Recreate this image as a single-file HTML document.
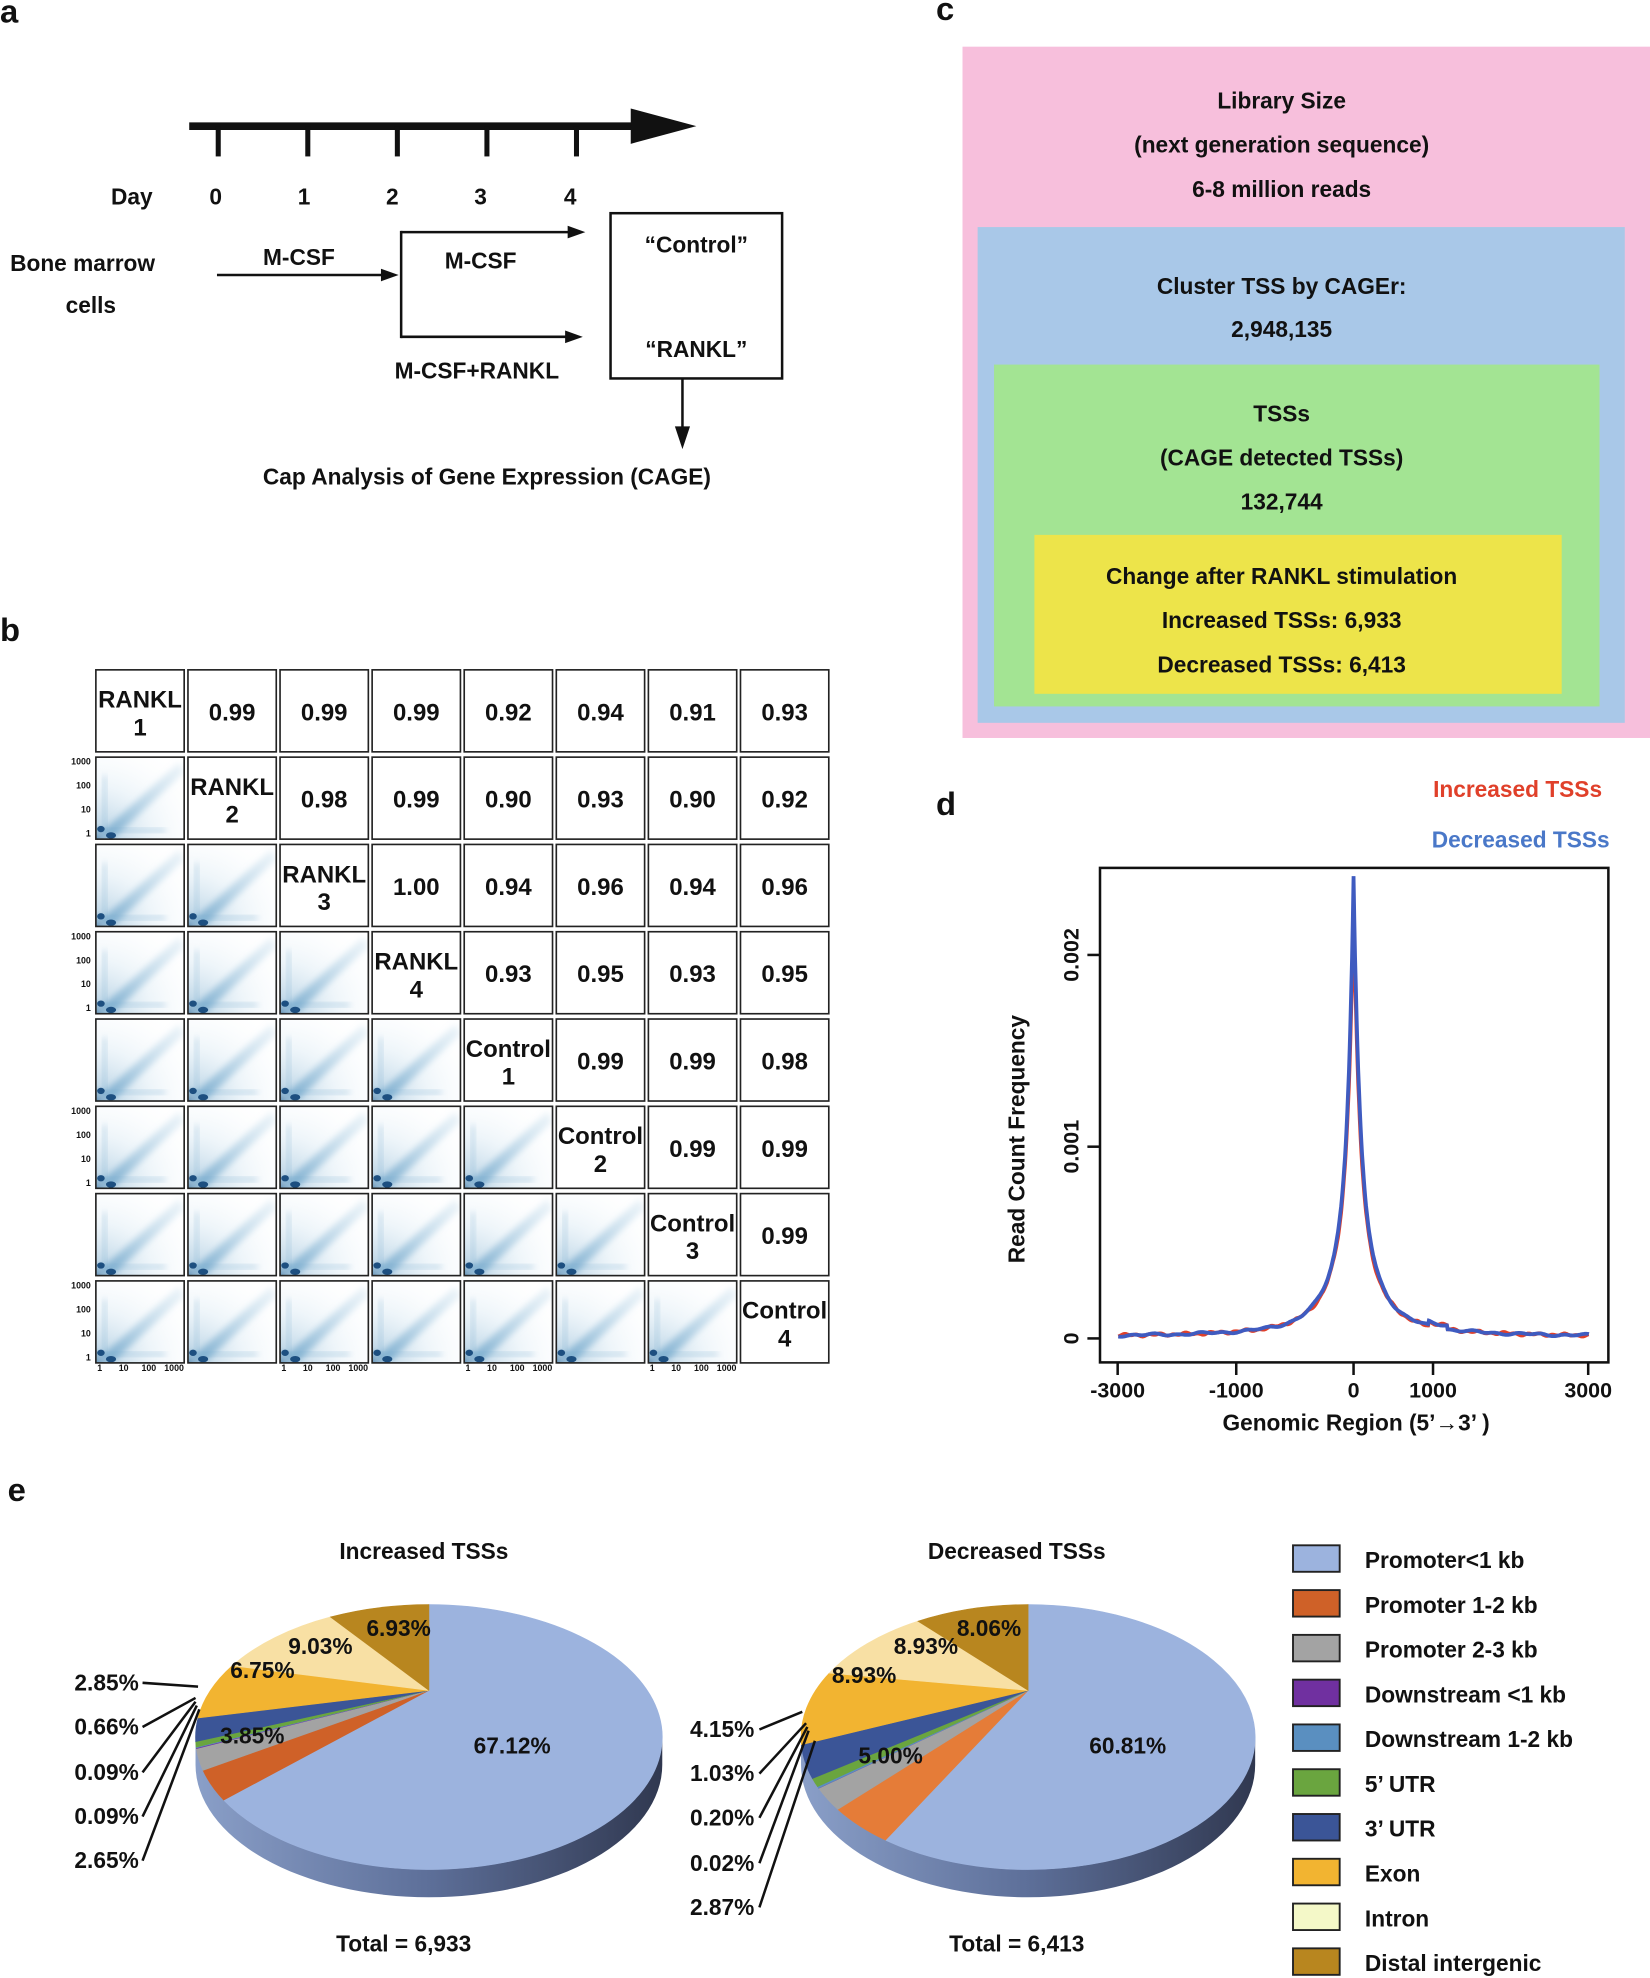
<!DOCTYPE html>
<html><head><meta charset="utf-8"><style>
html,body{margin:0;padding:0;background:#fff}
svg{display:block}
text{font-family:"Liberation Sans",Arial,sans-serif;font-weight:bold;fill:#111}
</style></head><body>
<svg id="s" width="1650" height="1978" viewBox="0 0 1308 1568" xmlns="http://www.w3.org/2000/svg">
<defs>
<radialGradient id="blob" cx="0" cy="1" r="1.3">
<stop offset="0" stop-color="#2a6a9c" stop-opacity="0.7"/>
<stop offset="0.15" stop-color="#6aa2c8" stop-opacity="0.4"/>
<stop offset="0.5" stop-color="#bcd8ea" stop-opacity="0.25"/>
<stop offset="1" stop-color="#fff" stop-opacity="0"/>
</radialGradient>
<linearGradient id="diag" x1="0" y1="1" x2="1" y2="0">
<stop offset="0" stop-color="#5a98c2" stop-opacity="0.7"/>
<stop offset="1" stop-color="#b4d4e8" stop-opacity="0.25"/>
</linearGradient>
<filter id="bl"><feGaussianBlur stdDeviation="2.5"/></filter>
<symbol id="th" viewBox="0 0 70 65">
<rect x="0" y="0" width="70" height="65" fill="#fff"/>
<rect x="0" y="0" width="70" height="65" fill="url(#blob)"/>
<path d="M4 60 L66 4 L70 12 L14 64 Z" fill="url(#diag)" filter="url(#bl)"/>
<rect x="0" y="56" width="55" height="4" fill="#7fb0d2" opacity="0.35" filter="url(#bl)"/>
<rect x="5" y="15" width="4" height="50" fill="#7fb0d2" opacity="0.3" filter="url(#bl)"/>
<ellipse cx="4" cy="57" rx="3" ry="2.5" fill="#1d4f80"/>
<ellipse cx="12" cy="62" rx="4" ry="2.5" fill="#1d4f80"/>
</symbol>
<linearGradient id="sideL" x1="0" y1="0" x2="1" y2="0">
<stop offset="0" stop-color="#8a9fc8"/><stop offset="0.5" stop-color="#5d6f99"/><stop offset="1" stop-color="#303850"/>
</linearGradient>
</defs>
<g id="g"></g>
</svg>
<script>
const S='http://www.w3.org/2000/svg',G=document.getElementById('g');
function el(t,a,txt){const e=document.createElementNS(S,t);for(const k in a)e.setAttribute(k,a[k]);if(txt!==undefined)e.textContent=txt;G.appendChild(e);return e;}
function T(x,y,s,fs,anc,extra){const a={x:x,y:y,'font-size':fs||18};if(anc)a['text-anchor']=anc;Object.assign(a,extra||{});return el('text',a,s);}
T(0,18,'a',26);T(742,16,'c',26);T(0,508,'b',26);T(742,646,'d',26);T(6,1190,'e',26);
el('line',{x1:150,y1:100,x2:510,y2:100,stroke:'#111','stroke-width':6});
el('polygon',{points:'500,86 552,100 500,114',fill:'#111'});
[173,244,315,386,457].forEach(x=>el('line',{x1:x,y1:100,x2:x,y2:124,stroke:'#111','stroke-width':4}));
T(88,162,'Day',18);[['0',171],['1',241],['2',311],['3',381],['4',452]].forEach(d=>T(d[1],162,d[0],18,'middle'));
T(8,215,'Bone marrow',18);T(72,248,'cells',18,'middle');
function arr(x1,y1,x2,y2){el('line',{x1:x1,y1:y1,x2:x2-12,y2:y2,stroke:'#111','stroke-width':2});el('polygon',{points:`${x2-14},${y2-5} ${x2},${y2} ${x2-14},${y2+5}`,fill:'#111'});}
arr(172,218,316,218);T(237,210,'M-CSF',18,'middle');
el('line',{x1:318,y1:183,x2:318,y2:268,stroke:'#111','stroke-width':2});
arr(318,184,464,184);arr(318,267,462,267);
T(381,213,'M-CSF',18,'middle');T(378,300,'M-CSF+RANKL',18,'middle');
el('rect',{x:484,y:169,width:136,height:131,fill:'none',stroke:'#111','stroke-width':2});
T(552,200,'“Control”',18,'middle');T(552,283,'“RANKL”',18,'middle');
el('line',{x1:541,y1:300,x2:541,y2:342,stroke:'#111','stroke-width':2});el('polygon',{points:'535,338 541,356 547,338',fill:'#111'});
T(386,384,'Cap Analysis of Gene Expression (CAGE)',18,'middle');
el('rect',{x:763,y:37,width:545,height:548,fill:'#f7bfdc'});
el('rect',{x:775,y:180,width:513,height:393,fill:'#a9c8e8'});
el('rect',{x:788,y:289,width:480,height:271,fill:'#a3e493'});
el('rect',{x:820,y:424,width:418,height:126,fill:'#ede44a'});
[['Library Size',86],['(next generation sequence)',121],['6-8 million reads',156],['Cluster TSS by CAGEr:',233],['2,948,135',267],['TSSs',334],['(CAGE detected TSSs)',369],['132,744',404],['Change after RANKL stimulation',463],['Increased TSSs: 6,933',498],['Decreased TSSs: 6,413',533]].forEach(t=>T(1016,t[1],t[0],18,'middle'));
const vals=[[null,'0.99','0.99','0.99','0.92','0.94','0.91','0.93'],[null,null,'0.98','0.99','0.90','0.93','0.90','0.92'],[null,null,null,'1.00','0.94','0.96','0.94','0.96'],[null,null,null,null,'0.93','0.95','0.93','0.95'],[null,null,null,null,null,'0.99','0.99','0.98'],[null,null,null,null,null,null,'0.99','0.99'],[null,null,null,null,null,null,null,'0.99'],[]];
const names=['RANKL','RANKL','RANKL','RANKL','Control','Control','Control','Control'];
for(let r=0;r<8;r++)for(let c=0;c<8;c++){const x=76+c*73,y=531+r*69.2;
 if(c<r){el('use',{href:'#th',x:x,y:y,width:70,height:65});el('rect',{x:x,y:y,width:70,height:65,fill:'none',stroke:'#222','stroke-width':1.3});}
 else{el('rect',{x:x,y:y,width:70,height:65,fill:'#fff',stroke:'#222','stroke-width':1.3});
  if(c==r){T(x+35,y+30,names[r],19,'middle');T(x+35,y+52,String(r%4+1),19,'middle');}
  else T(x+35,y+40,vals[r][c],19,'middle');}
}
for(let r=1;r<8;r+=2){const y=531+r*69.2;[['1000',3],['100',22],['10',41],['1',60]].forEach(l=>T(72,y+l[1]+3,l[0],7,'end',{'font-weight':'normal'}));}
[0,2,4,6].forEach(c=>{const x=76+c*73;[['1',3],['10',22],['100',42],['1000',62]].forEach(l=>T(x+l[1],1087,l[0],7,'middle',{'font-weight':'normal'}));});
T(1270,632,'Increased TSSs',18,'end',{style:'fill:#e0402a'});T(1276,672,'Decreased TSSs',18,'end',{style:'fill:#4a78c8'});
el('rect',{x:872,y:688,width:403,height:392,fill:'none',stroke:'#111','stroke-width':2});
[[1061,'0'],[909,'0.001'],[757,'0.002']].forEach(t=>{el('line',{x1:862,y1:t[0],x2:872,y2:t[0],stroke:'#111','stroke-width':2});T(855,t[0],t[1],17,'middle',{transform:`rotate(-90 855 ${t[0]})`});});
[[886,'-3000'],[980,'-1000'],[1073,'0'],[1136,'1000'],[1259,'3000']].forEach(t=>{el('line',{x1:t[0],y1:1080,x2:t[0],y2:1090,stroke:'#111','stroke-width':2});T(t[0],1108,t[1],17,'middle');});
T(1075,1134,'Genomic Region (5’→3’ )',18,'middle');
T(812,903,'Read Count Frequency',18,'middle',{transform:'rotate(-90 812 903)'});
function curve(seed,col,w,pk){let d='';for(let x=-3000;x<=3000;x+=10){let a=Math.abs(x);let v=pk*0.6*Math.exp(-a/70)+pk*0.37*Math.exp(-a/230)+0.00012*Math.exp(-a/900)+0.000012;v+= (Math.sin(x*seed*0.013)+Math.sin(x*0.031*seed))*0.000004;if(x>950&&x<1200)v+=0.00002;const px=1073+x*(1259-886)/6000,py=1061-v*152000;d+=(d?'L':'M')+px.toFixed(1)+' '+py.toFixed(1);}el('path',{d:d,fill:'none',stroke:col,'stroke-width':w});}
curve(1.3,'#e0402a',3,0.00222);curve(0.7,'#3f5bc0',3,0.00235);
function pie(ax,ay,cx,cy,rx,ry,dep,vals,cols){
 el('path',{d:`M${cx-rx} ${cy} A${rx} ${ry} 0 0 0 ${cx+rx} ${cy} L${cx+rx} ${cy+dep} A${rx} ${ry} 0 0 1 ${cx-rx} ${cy+dep} Z`,fill:'url(#sideL)'});
 let a=0;const tot=vals.reduce((p,q)=>p+q,0);
 const pt=t=>[cx+rx*Math.sin(t),cy-ry*Math.cos(t)];
 vals.forEach((v,i)=>{const t0=a/tot*2*Math.PI;a+=v;const t1=a/tot*2*Math.PI;const p0=pt(t0),p1=pt(t1);
  el('path',{d:`M${ax} ${ay} L${p0[0]} ${p0[1]} A${rx} ${ry} 0 ${t1-t0>Math.PI?1:0} 1 ${p1[0]} ${p1[1]} Z`,fill:cols[i],stroke:cols[i],'stroke-width':0.5});});
}
const cl=['#9cb3de','#cf6128','#a3a3a3','#7030a0','#5a8fc0','#6aa53f','#3b5597','#f2b431','#f8e0a4','#b8861f'];
const cr=cl.slice();cr[1]='#e57c38';
pie(340,1340,340,1377,185,105,22,[67.12,3.85,2.65,0.09,0.09,0.66,2.85,6.75,9.03,6.93],cl);
pie(815,1340,815,1377,180,105,22,[60.81,5.00,2.87,0.02,0.20,1.03,4.15,8.93,8.93,8.06],cr);
T(336,1236,'Increased TSSs',18,'middle');T(806,1236,'Decreased TSSs',18,'middle');
T(320,1547,'Total = 6,933',18,'middle');T(806,1547,'Total = 6,413',18,'middle');
[['67.12%',406,1390],['3.85%',200,1382],['6.75%',208,1330],['9.03%',254,1311],['6.93%',316,1297],['60.81%',894,1390],['5.00%',706,1398],['8.93%',685,1334],['8.93%',734,1311],['8.06%',784,1297]].forEach(t=>T(t[1],t[2],t[0],18,'middle'));
const ll=[['2.85%',1334,157,1337],['0.66%',1369,155,1346],['0.09%',1405,155,1349],['0.09%',1440,156,1352],['2.65%',1475,158,1355]];
ll.forEach(l=>{T(110,l[1]+6,l[0],18,'end');el('line',{x1:113,y1:l[1],x2:l[2],y2:l[3],stroke:'#111','stroke-width':2});});
const lr=[['4.15%',1371,636,1357],['1.03%',1406,639,1366],['0.20%',1441,640,1369],['0.02%',1477,641,1372],['2.87%',1512,646,1380]];
lr.forEach(l=>{T(598,l[1]+6,l[0],18,'end');el('line',{x1:602,y1:l[1],x2:l[2],y2:l[3],stroke:'#111','stroke-width':2});});
const leg=['Promoter<1 kb','Promoter 1-2 kb','Promoter 2-3 kb','Downstream <1 kb','Downstream 1-2 kb','5’ UTR','3’ UTR','Exon','Intron','Distal intergenic'];
const lc=['#9cb3de','#cf6128','#a3a3a3','#7030a0','#5a8fc0','#6aa53f','#3b5597','#f2b431','#f4f8c8','#b8861f'];
leg.forEach((s,i)=>{const y=1225+i*35.5;el('rect',{x:1025,y:y,width:37,height:21,fill:lc[i],stroke:'#222','stroke-width':1.5});T(1082,y+18,s,18);});
</script>
</body></html>
